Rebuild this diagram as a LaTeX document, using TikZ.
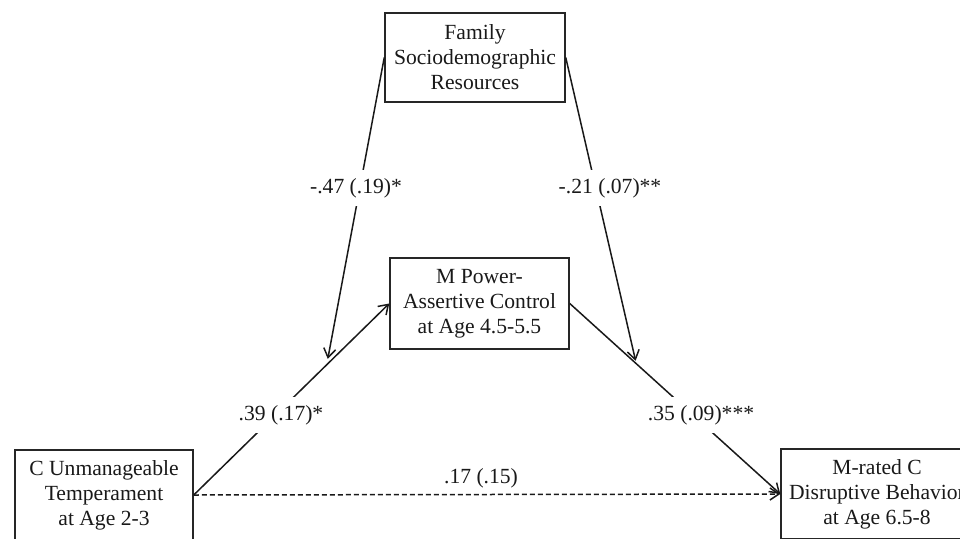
\documentclass[tikz,border=0pt]{standalone}
\usepackage{fontspec}
\setmainfont{Liberation Serif}
\usetikzlibrary{arrows.meta,calc}
\begin{document}
\begin{tikzpicture}[x=1pt,y=-1pt,
  txt/.style={font=\fontsize{21.6}{25}\selectfont,text=black!90},
  box/.style={txt,draw=black!85,line width=1.5pt,rectangle,minimum width=180pt,minimum height=90pt,align=center,inner sep=0pt},
  conn/.style={draw=black!90,line width=1.5pt,-{Straight Barb[length=9pt,width=12pt,line width=1.5pt]}},
  dashconn/.style={conn,dash pattern=on 5pt off 3pt},
  lab/.style={txt,fill=white,inner xsep=3pt,inner ysep=8pt}]
\useasboundingbox (0,0) rectangle (960,538);
\clip (0,0) rectangle (960,538);
% boxes
\node[box,minimum width=180pt,minimum height=89pt] (fam) at (475,57.5) {Family\\Sociodemographic\\Resources};
\node[box,minimum width=179pt,minimum height=91pt] (med) at (479.5,303.5) {M Power-\\Assertive Control\\at Age 4.5-5.5};
\node[box,minimum width=178pt,minimum height=90pt] (cut) at (104,495) {C Unmanageable\\Temperament\\at Age 2-3};
\node[box,minimum width=192pt,minimum height=90pt] (out) at (877,494) {M-rated C\\Disruptive Behavior\\at Age 6.5-8};
% points on paths for moderation
\coordinate (ma) at ($(cut.east)!0.68!(med.west)$);
\coordinate (mb) at ($(med.east)!0.316!(out.west)$);
% connectors
\draw[conn] (cut.east) -- (med.west);
\draw[conn] (med.east) -- (out.west);
\draw[dashconn] (cut.east) -- (out.west);
\draw[conn,shorten >=6pt] (fam.west) -- (ma);
\draw[conn,shorten >=3pt] (fam.east) -- (mb);
% labels
\node[lab] (la) at (281,415) {.39 (.17)*};
\node[lab] (lb) at (701,415) {.35 (.09)***};
\node[txt] (lc) at (481,478) {.17 (.15)};
\node[lab] (lm1) at (356,188) {-.47 (.19)*};
\node[lab] (lm2) at (610,188) {-.21 (.07)**};
\end{tikzpicture}
\end{document}
